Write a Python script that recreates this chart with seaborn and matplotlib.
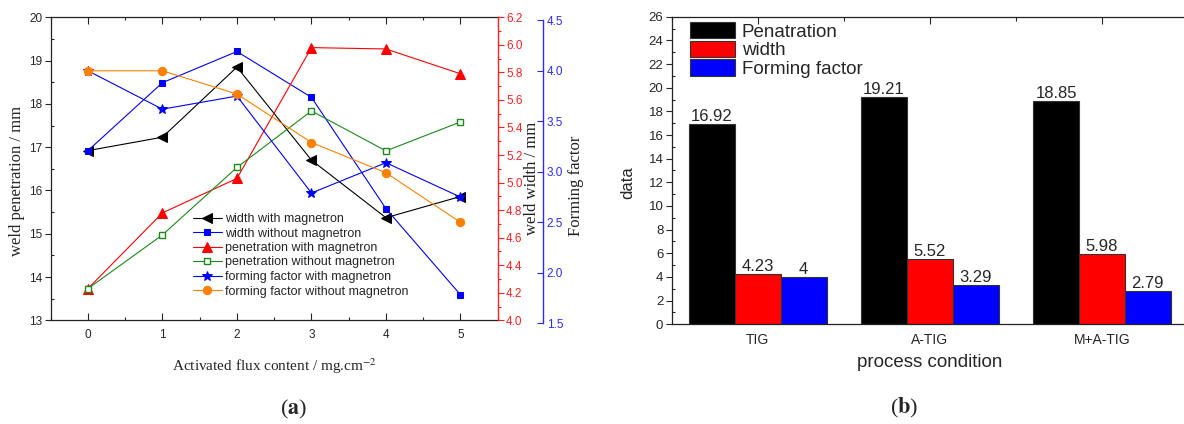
import numpy as np
import pandas as pd
import matplotlib
matplotlib.use("Agg")
import matplotlib.pyplot as plt
import seaborn as sns
from matplotlib.ticker import MultipleLocator

# ---------------- data: panel (a) ----------------
flux = [0, 1, 2, 3, 4, 5]
width_with = [16.92, 17.23, 18.85, 16.70, 15.37, 15.86]
width_without = [16.92, 18.49, 19.21, 18.15, 15.58, 13.59]
pen_with = [4.23, 4.78, 5.03, 5.98, 5.97, 5.79]
pen_without = [4.23, 4.62, 5.11, 5.52, 5.23, 5.44]
ff_with = [4.00, 3.62, 3.75, 2.79, 3.09, 2.75]
ff_without = [4.00, 4.00, 3.77, 3.29, 2.99, 2.50]

# ---------------- data: panel (b) ----------------
conditions = ["TIG", "A-TIG", "M+A-TIG"]
metrics = ["Penatration", "width", "Forming factor"]
penetration = [16.92, 19.21, 18.85]
width = [4.23, 5.52, 5.98]
forming = [4, 3.29, 2.79]

sns.set_theme(style="ticks")
plt.rcParams["font.family"] = ["Liberation Sans", "DejaVu Sans"]
plt.rcParams["mathtext.fontset"] = "stix"
plt.rcParams["axes.linewidth"] = 0.9
SERIF = ["Liberation Serif", "DejaVu Serif"]

W, H = 1184, 424
fig = plt.figure(figsize=(W / 100, H / 100), dpi=100)


def rect(l, t, r, b):
    return [l / W, 1 - b / H, (r - l) / W, (b - t) / H]


RED = "#ff2020"
BLUE = "#2b2bff"
ORANGE = "#ff8000"
GREEN = "#1a8a1a"

# ================= panel (a) =================
ax = fig.add_axes(rect(50.7, 17.3, 497.7, 320.3))
axr = ax.twinx()
axb = fig.add_axes(rect(50.7, 20.3, 497.7, 323.3), sharex=ax)
axb.patch.set_visible(False)

lw = 0.8
sns.lineplot(x=flux, y=width_with, ax=ax, color="black", marker="<", markersize=6.5,
             markeredgecolor="black", linewidth=lw, legend=False)
sns.lineplot(x=flux, y=width_without, ax=ax, color="blue", marker="s", markersize=5,
             markeredgecolor="blue", linewidth=lw, legend=False)
sns.lineplot(x=flux, y=pen_with, ax=axr, color="red", marker="^", markersize=6.5,
             markeredgecolor="red", linewidth=lw, legend=False)
sns.lineplot(x=flux, y=pen_without, ax=axr, color=GREEN, marker="s", markersize=5,
             markerfacecolor="white", markeredgecolor=GREEN, markeredgewidth=1.0,
             linewidth=lw, legend=False)
sns.lineplot(x=flux, y=ff_with, ax=axb, color="blue", marker="*", markersize=7.5,
             markeredgecolor="blue", linewidth=lw, legend=False)
sns.lineplot(x=flux, y=ff_without, ax=axb, color=ORANGE, marker="o", markersize=6,
             markeredgecolor=ORANGE, linewidth=lw, legend=False)

handles = [ax.lines[0], ax.lines[1], axr.lines[0], axr.lines[1], axb.lines[0], axb.lines[1]]
labels = ["width with magnetron", "width without magnetron", "penetration with magnetron",
          "penetration without magnetron", "forming factor with magnetron",
          "forming factor without magnetron"]
axb.legend(handles, labels, loc="upper left", bbox_to_anchor=(193 / W, 1 - 213 / H),
           bbox_transform=fig.transFigure, frameon=False, fontsize=9, borderpad=0,
           borderaxespad=0, handlelength=2.3, handletextpad=0.3, labelspacing=0.2)

ax.set_xlim(-0.5, 5.5)
ax.set_ylim(13, 20)
ax.set_xticks(flux)
ax.xaxis.set_minor_locator(MultipleLocator(0.5))
ax.yaxis.set_major_locator(MultipleLocator(1))
ax.yaxis.set_minor_locator(MultipleLocator(0.5))
ax.tick_params(axis="y", which="major", direction="out", length=4, width=0.8,
               labelsize=8.5, pad=2, left=True, right=False)
ax.tick_params(axis="y", which="minor", direction="in", length=2, width=0.8, right=False)
ax.tick_params(axis="x", which="major", direction="in", length=5, width=0.8,
               labelsize=8.5, top=True, bottom=True, pad=6)
ax.tick_params(axis="x", which="minor", direction="in", length=2, width=0.8,
               top=True, bottom=True)
ax.spines["right"].set_visible(False)
for s in ["left", "top", "bottom"]:
    ax.spines[s].set_color("#222222")
ax.set_xlabel("Activated flux content / mg.cm$^{-2}$", family=SERIF, fontsize=11)
ax.xaxis.set_label_coords(0.5, -0.118)
ax.set_ylabel("weld penetration / mm", family=SERIF, fontsize=12)
ax.yaxis.set_label_coords(-0.058, 0.46)

# red axis (weld width)
axr.set_ylim(4.0, 6.2)
axr.yaxis.set_major_locator(MultipleLocator(0.2))
axr.yaxis.set_minor_locator(MultipleLocator(0.1))
axr.tick_params(axis="y", which="major", direction="out", length=4, width=0.8,
                colors=RED, labelsize=8.5, pad=2)
axr.tick_params(axis="y", which="minor", direction="out", length=2, width=0.8, colors=RED)
for s in ["left", "top", "bottom"]:
    axr.spines[s].set_visible(False)
axr.spines["right"].set_color(RED)
axr.spines["right"].set_linewidth(1.0)
axr.set_ylabel("weld width / mm", family=SERIF, fontsize=12, color="#222222")
axr.yaxis.set_label_coords(1.058, 0.468)

# blue axis (forming factor)
axb.set_ylim(1.5, 4.5)
axb.yaxis.tick_right()
axb.yaxis.set_label_position("right")
axb.yaxis.set_major_locator(MultipleLocator(0.5))
axb.tick_params(axis="y", which="major", direction="in", length=4, width=0.8,
                colors=BLUE, labelsize=8.5, pad=3, left=False, right=True)
axb.tick_params(axis="x", which="both", bottom=False, top=False, labelbottom=False)
for s in ["left", "top", "bottom"]:
    axb.spines[s].set_visible(False)
axb.spines["right"].set_position(("outward", 32.4))
axb.spines["right"].set_color(BLUE)
axb.spines["right"].set_linewidth(1.0)
axb.set_ylabel("Forming factor", family=SERIF, fontsize=12, color="#222222")
axb.yaxis.set_label_coords(1.157, 0.455)

fig.text(294 / W, 1 - 409 / H, r"($\mathbf{a}$)", family=SERIF, fontsize=16,
         ha="center", va="center")

# ================= panel (b) =================
ax2 = fig.add_axes(rect(671.7, 16.7, 1188, 324.3))
df = pd.DataFrame({
    "condition": conditions * 3,
    "metric": [m for m in metrics for _ in conditions],
    "value": penetration + width + forming,
})
sns.barplot(data=df, x="condition", y="value", hue="metric", hue_order=metrics,
            order=conditions, palette=["black", "#ff0000", "#0000ff"], saturation=1,
            edgecolor="#333333", linewidth=0.8, errorbar=None, ax=ax2)
for cont, vals in zip(ax2.containers, [penetration, width, forming]):
    ax2.bar_label(cont, labels=[f"{v:g}" for v in vals], padding=0, fontsize=12)

h, l = ax2.get_legend_handles_labels()
ax2.legend(h, l, loc="upper left", bbox_to_anchor=(690 / W, 1 - 22.0 / H),
           bbox_transform=fig.transFigure, frameon=False, fontsize=13.5, borderpad=0,
           borderaxespad=0, handlelength=2.4, handleheight=0.97, handletextpad=0.35,
           labelspacing=0.0)

ax2.set_xlim(-0.5, 2.5)
ax2.set_ylim(0, 26)
ax2.yaxis.set_major_locator(MultipleLocator(2))
ax2.yaxis.set_minor_locator(MultipleLocator(1))
ax2.xaxis.set_minor_locator(MultipleLocator(0.5))
ax2.tick_params(axis="y", which="major", direction="out", length=4, width=0.8,
                labelsize=9.5, pad=2)
ax2.tick_params(axis="y", which="minor", direction="in", length=2, width=0.8)
ax2.tick_params(axis="x", which="major", direction="in", length=5, width=0.8,
                labelsize=10, top=True, bottom=True, pad=6)
ax2.tick_params(axis="x", which="minor", direction="in", length=3, width=0.8,
                top=True, bottom=False)
for s in ax2.spines.values():
    s.set_color("#222222")
ax2.set_xlabel("process condition", fontsize=13.5)
ax2.xaxis.set_label_coords(0.5, -0.095)
ax2.set_ylabel("data", fontsize=12)
ax2.yaxis.set_label_coords(-0.07, 0.46)

fig.text(904.5 / W, 1 - 408 / H, r"($\mathbf{b}$)", family=SERIF, fontsize=16,
         ha="center", va="center")

fig.savefig("out.png", dpi=100)
